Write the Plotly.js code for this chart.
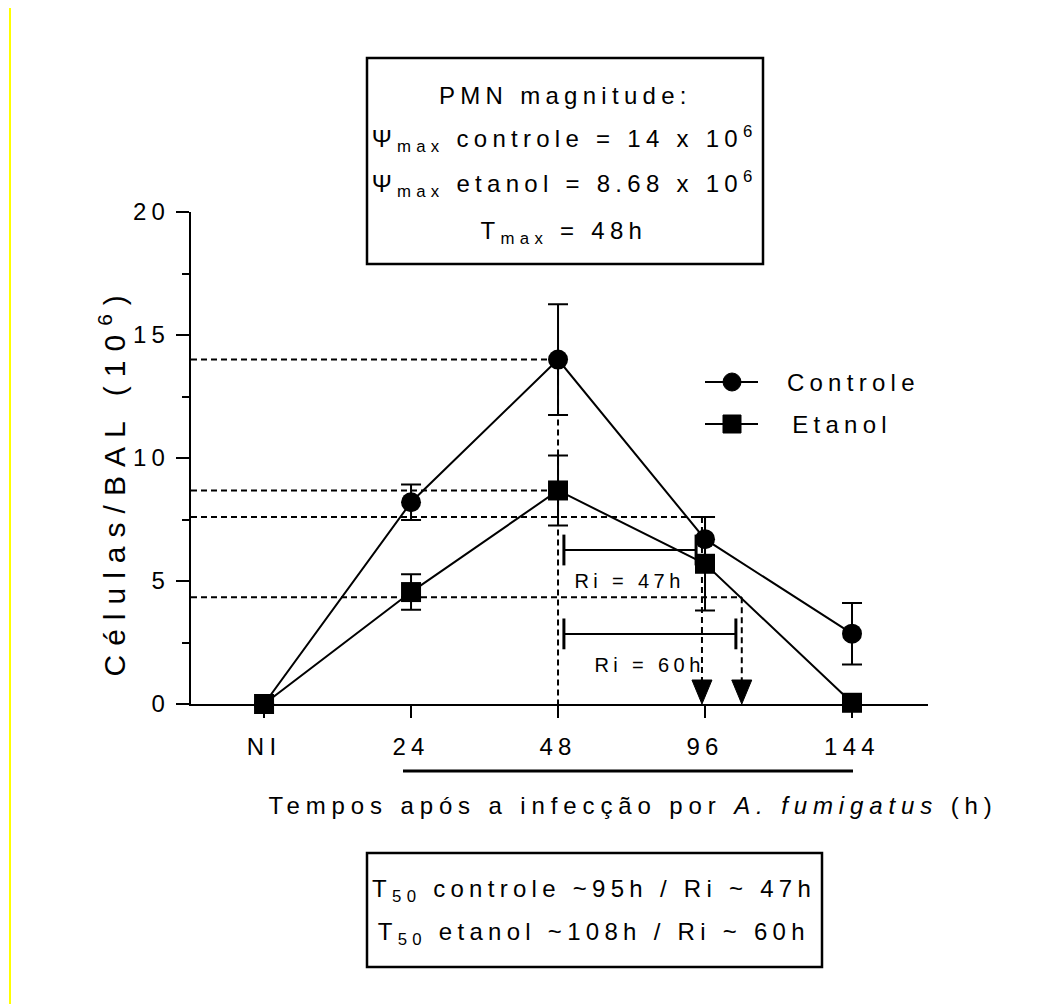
<!DOCTYPE html>
<html>
<head>
<meta charset="utf-8">
<script src="https://cdn.plot.ly/plotly-3.0.1.min.js"></script>
<style>
  html, body { margin: 0; padding: 0; background: #ffffff; }
  #chart { width: 1048px; height: 1004px; }
  #chart text { letter-spacing: 0.22em; }
  /* wider tracking for the two axis titles */
  #chart g.annotation[data-index="6"] text { letter-spacing: 0.245em; }
  #chart g.annotation[data-index="7"] text { letter-spacing: 0.3em; }
</style>
</head>
<body>
<div id="chart"></div>
<script>
// Time points after infection (NI = not infected)
const categories = ['NI', '24', '48', '96', '144'];
const categoryHours = [null, 24, 48, 96, 144];

// PMN counts in BAL (x 10^6), mean and SEM
const controleMean = [0, 8.2, 14.0, 6.7, 2.86];
const controleSem  = [0, 0.72, 2.25, 0.9, 1.25];
const etanolMean   = [0, 4.55, 8.68, 5.7, 0.05];
const etanolSem    = [0, 0.72, 1.42, 1.9, 0];

// Resolution indices
const tMaxHours  = 48;
const t50Hours   = [95, 108];   // controle, etanol
const riHours    = [47, 60];    // controle, etanol
const halfLevels = [7.6, 4.34]; // half-magnitude levels read at T50

const yTicks = [0, 5, 10, 15, 20];

// hours -> position on the categorical axis (piecewise linear between time points)
function hourToPos(h) {
  for (let i = 1; i < categoryHours.length - 1; i++) {
    const h0 = categoryHours[i], h1 = categoryHours[i + 1];
    if (h <= h1 || i === categoryHours.length - 2) {
      return i + (h - h0) / (h1 - h0);
    }
  }
}

const xPos = categories.map((_, i) => i);
const xRange = [-0.497, 4.517];
const FONT = 'Liberation Sans, Arial, Helvetica, sans-serif';

const controleTrace = {
  x: xPos, y: controleMean, name: 'Controle', type: 'scatter', mode: 'lines+markers',
  line: { color: '#000', width: 2 },
  marker: { symbol: 'circle', size: 20, color: '#000' },
  error_y: { type: 'data', array: controleSem, visible: true, color: '#000', thickness: 2, width: 10 },
  cliponaxis: false, showlegend: false, hoverinfo: 'skip'
};
const etanolTrace = {
  x: xPos, y: etanolMean, name: 'Etanol', type: 'scatter', mode: 'lines+markers',
  line: { color: '#000', width: 2 },
  marker: { symbol: 'square', size: 20, color: '#000' },
  error_y: { type: 'data', array: etanolSem, visible: true, color: '#000', thickness: 2, width: 10 },
  cliponaxis: false, showlegend: false, hoverinfo: 'skip'
};

const tMaxPos = hourToPos(tMaxHours);
const t50Pos = t50Hours.map(hourToPos);
const riLevels = [6.26, 2.85];
const inset = 0.04;

// Ri spans from T_max to T50, drawn with end caps
const riTraces = t50Pos.map((p, i) => ({
  x: [tMaxPos + inset, p - inset], y: [riLevels[i], riLevels[i]],
  type: 'scatter', mode: 'lines+markers',
  line: { color: '#000', width: 2 },
  marker: { symbol: 'line-ns', size: 22, color: '#000', line: { color: '#000', width: 3 } },
  cliponaxis: false, showlegend: false, hoverinfo: 'skip'
}));

const maxControle = Math.max(...controleMean);
const maxEtanol = Math.max(...etanolMean);
const dash = '6px,4px';

const shapes = [];
// magnitude guide lines
[maxControle, maxEtanol].forEach(v => {
  shapes.push({ type: 'line', xref: 'x', yref: 'y', x0: xRange[0], x1: tMaxPos, y0: v, y1: v,
    line: { color: '#000', width: 2, dash: dash }, layer: 'below' });
});
shapes.push({ type: 'line', xref: 'x', yref: 'y', x0: tMaxPos, x1: tMaxPos, y0: maxControle, y1: 0,
  line: { color: '#000', width: 2, dash: dash }, layer: 'below' });
// half-magnitude guide lines down to T50
halfLevels.forEach((v, i) => {
  shapes.push({ type: 'line', xref: 'x', yref: 'y', x0: xRange[0], x1: t50Pos[i], y0: v, y1: v,
    line: { color: '#000', width: 2, dash: dash }, layer: 'below' });
  shapes.push({ type: 'line', xref: 'x', yref: 'y', x0: t50Pos[i], x1: t50Pos[i], y0: v, y1: 0.9,
    line: { color: '#000', width: 2, dash: dash }, layer: 'below' });
  // arrow head marking T50 on the time axis
  shapes.push({ type: 'path', xref: 'x', yref: 'y', xsizemode: 'pixel', ysizemode: 'pixel',
    xanchor: t50Pos[i], yanchor: 0, path: 'M-10,24 L10,24 L0,0 Z',
    fillcolor: '#000', line: { color: '#000', width: 1 } });
});

// paper-coordinate helpers for the plot area (191..928 px, 704..212 px)
const PL = 191, PW = 737, PB = 704, PH = 492;
const px = v => (v - PL) / PW;
const py = v => (PB - v) / PH;

// info boxes
shapes.push({ type: 'rect', xref: 'paper', yref: 'paper', x0: px(367), x1: px(763), y0: py(264), y1: py(58),
  line: { color: '#000', width: 2.5 }, fillcolor: 'rgba(0,0,0,0)' });
shapes.push({ type: 'rect', xref: 'paper', yref: 'paper', x0: px(367), x1: px(822), y0: py(967), y1: py(853),
  line: { color: '#000', width: 2.5 }, fillcolor: 'rgba(0,0,0,0)' });
// bracket under the infected time points
shapes.push({ type: 'line', xref: 'paper', yref: 'paper', x0: px(403), x1: px(853), y0: py(771), y1: py(771),
  line: { color: '#000', width: 3 } });
// page margin rule
shapes.push({ type: 'line', xref: 'paper', yref: 'paper', x0: px(10), x1: px(10), y0: py(1004), y1: py(8),
  line: { color: '#ffff00', width: 2 } });

// legend keys
const legendItems = [
  { label: 'Controle', shape: 'circle', y: 382 },
  { label: 'Etanol', shape: 'rect', y: 424 }
];
legendItems.forEach(it => {
  shapes.push({ type: 'line', xref: 'paper', yref: 'paper', x0: px(705), x1: px(758), y0: py(it.y), y1: py(it.y),
    line: { color: '#000', width: 2 } });
  shapes.push({ type: it.shape, xref: 'paper', yref: 'paper', xsizemode: 'pixel', ysizemode: 'pixel',
    xanchor: px(732), yanchor: py(it.y), x0: -9, x1: 9, y0: -9, y1: 9,
    fillcolor: '#000', line: { color: '#000', width: 1 } });
});

const txt = (text, x, y, size, extra) => Object.assign({
  text: text, xref: 'paper', yref: 'paper', x: x, y: y, showarrow: false,
  xanchor: 'center', yanchor: 'middle', font: { family: FONT, size: size, color: '#000' }
}, extra || {});

const annotations = [
  txt('PMN magnitude:', px(565), py(95), 24),
  txt('\u03A8<sub>max</sub> controle = ' + Math.round(maxControle) + ' x 10<sup>6</sup>', px(564), py(139), 24),
  txt('\u03A8<sub>max</sub> etanol = ' + maxEtanol.toFixed(2) + ' x 10<sup>6</sup>', px(564), py(184), 24),
  txt('T<sub>max</sub> = ' + tMaxHours + 'h', px(564), py(232), 24),
  txt('T<sub>50</sub> controle ~' + t50Hours[0] + 'h / Ri ~ ' + riHours[0] + 'h', px(594), py(890), 24),
  txt('T<sub>50</sub> etanol ~' + t50Hours[1] + 'h / Ri ~ ' + riHours[1] + 'h', px(594), py(933), 24),
  txt('Tempos após a infecção por <i>A. fumigatus</i> (h)', px(633), py(805), 24),
  txt('Células/BAL (10<sup>6</sup>)', px(112), py(482), 30, { textangle: -90 }),
  txt('Controle', px(806), py(382), 24, { xanchor: 'left' }),
  txt('Etanol', px(806), py(424), 24, { xanchor: 'left' })
];
t50Pos.forEach((p, i) => {
  annotations.push({
    text: 'Ri = ' + riHours[i] + 'h', xref: 'x', yref: 'y',
    x: (tMaxPos + p) / 2, y: riLevels[i], yshift: -31, showarrow: false,
    xanchor: 'center', yanchor: 'middle', font: { family: FONT, size: 20, color: '#000' }
  });
});

const layout = {
  width: 1048, height: 1004,
  margin: { l: PL, r: 1048 - PL - PW, t: PB - PH, b: 1004 - PB },
  paper_bgcolor: '#ffffff', plot_bgcolor: '#ffffff',
  font: { family: FONT, size: 24, color: '#000' },
  showlegend: false,
  xaxis: {
    range: xRange, tickmode: 'array', tickvals: xPos, ticktext: categories,
    showline: true, linecolor: '#000', linewidth: 2,
    ticks: 'outside', ticklen: 12, tickwidth: 2, tickcolor: '#000',
    showgrid: false, zeroline: false, fixedrange: true,
    tickfont: { family: FONT, size: 24, color: '#000' }, ticklabelstandoff: 8
  },
  yaxis: {
    range: [0, 20], tickmode: 'array', tickvals: yTicks,
    showline: true, linecolor: '#000', linewidth: 2,
    ticks: 'outside', ticklen: 13, tickwidth: 2, tickcolor: '#000',
    minor: { tickmode: 'linear', tick0: 0, dtick: 2.5, ticks: 'outside', ticklen: 7, tickwidth: 2, tickcolor: '#000', showgrid: false },
    showgrid: false, zeroline: false, fixedrange: true,
    tickfont: { family: FONT, size: 24, color: '#000' }, ticklabelstandoff: 1
  },
  shapes: shapes,
  annotations: annotations
};

Plotly.newPlot('chart', [controleTrace, etanolTrace].concat(riTraces), layout,
  { displayModeBar: false, staticPlot: true });
</script>
</body>
</html>
